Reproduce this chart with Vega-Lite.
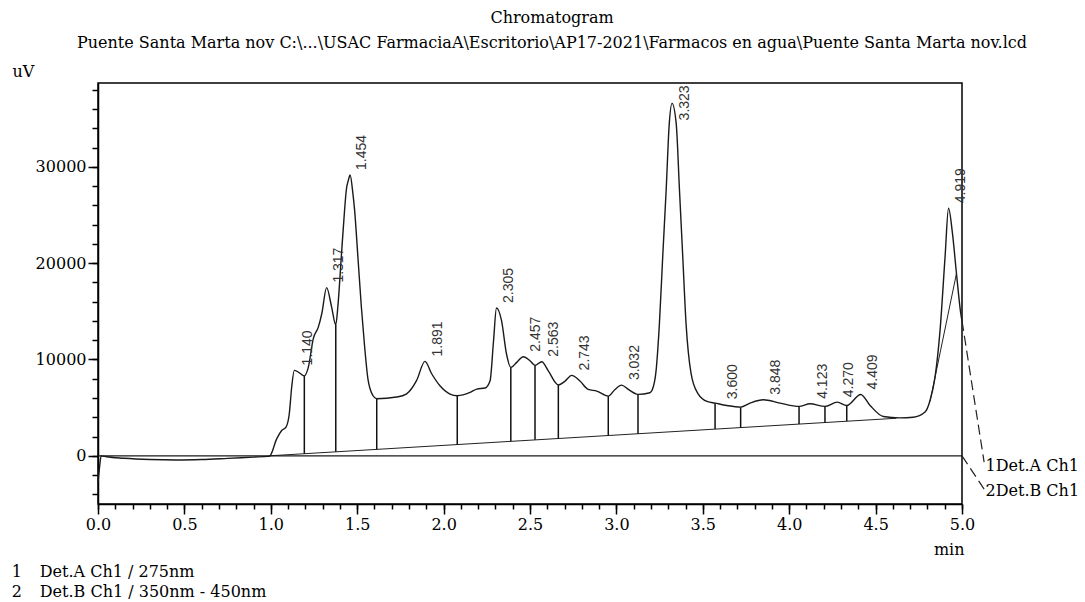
{
  "$schema": "https://vega.github.io/schema/vega-lite/v6.json",
  "width": 864,
  "height": 421,
  "autosize": {"type": "none"},
  "padding": {"left": 98, "top": 83, "right": 123, "bottom": 98},
  "background": "white",
  "title": {
    "text": "Chromatogram",
    "subtitle": "Puente Santa Marta nov C:\\...\\USAC FarmaciaA\\Escritorio\\AP17-2021\\Farmacos en agua\\Puente Santa Marta nov.lcd",
    "anchor": "middle",
    "dx": 22,
    "offset": 12,
    "font": "DejaVu Serif",
    "fontSize": 16,
    "fontWeight": "normal",
    "color": "#000",
    "subtitleFont": "DejaVu Serif",
    "subtitleFontSize": 16,
    "subtitleColor": "#000",
    "subtitlePadding": 9
  },
  "datasets": {
    "curves": [
      {"ch": "Det.B Ch1", "t": 0, "v": 0}, {"ch": "Det.B Ch1", "t": 1, "v": 0}, {"ch": "Det.B Ch1", "t": 2, "v": 0}, {"ch": "Det.B Ch1", "t": 3, "v": 0}, {"ch": "Det.B Ch1", "t": 4, "v": 0}, {"ch": "Det.B Ch1", "t": 5, "v": 0},
      {"ch": "Det.A Ch1", "t": 0.0, "v": -2800}, {"ch": "Det.A Ch1", "t": 0.01, "v": -1000}, {"ch": "Det.A Ch1", "t": 0.018, "v": 0}, {"ch": "Det.A Ch1", "t": 0.05, "v": -100},
      {"ch": "Det.A Ch1", "t": 0.15, "v": -250}, {"ch": "Det.A Ch1", "t": 0.3, "v": -380}, {"ch": "Det.A Ch1", "t": 0.45, "v": -430}, {"ch": "Det.A Ch1", "t": 0.6, "v": -380},
      {"ch": "Det.A Ch1", "t": 0.75, "v": -260}, {"ch": "Det.A Ch1", "t": 0.9, "v": -130}, {"ch": "Det.A Ch1", "t": 0.985, "v": -60}, {"ch": "Det.A Ch1", "t": 0.995, "v": 0},
      {"ch": "Det.A Ch1", "t": 1.034, "v": 1760}, {"ch": "Det.A Ch1", "t": 1.063, "v": 2630}, {"ch": "Det.A Ch1", "t": 1.088, "v": 2980}, {"ch": "Det.A Ch1", "t": 1.107, "v": 4370},
      {"ch": "Det.A Ch1", "t": 1.121, "v": 7140}, {"ch": "Det.A Ch1", "t": 1.136, "v": 8870}, {"ch": "Det.A Ch1", "t": 1.159, "v": 8700}, {"ch": "Det.A Ch1", "t": 1.194, "v": 8300},
      {"ch": "Det.A Ch1", "t": 1.217, "v": 9180}, {"ch": "Det.A Ch1", "t": 1.246, "v": 12170}, {"ch": "Det.A Ch1", "t": 1.275, "v": 13360}, {"ch": "Det.A Ch1", "t": 1.295, "v": 14750},
      {"ch": "Det.A Ch1", "t": 1.323, "v": 17460}, {"ch": "Det.A Ch1", "t": 1.352, "v": 15440}, {"ch": "Det.A Ch1", "t": 1.376, "v": 13600}, {"ch": "Det.A Ch1", "t": 1.388, "v": 15470},
      {"ch": "Det.A Ch1", "t": 1.408, "v": 20660}, {"ch": "Det.A Ch1", "t": 1.427, "v": 25510}, {"ch": "Det.A Ch1", "t": 1.437, "v": 27590}, {"ch": "Det.A Ch1", "t": 1.449, "v": 28620},
      {"ch": "Det.A Ch1", "t": 1.459, "v": 29150}, {"ch": "Det.A Ch1", "t": 1.475, "v": 27250}, {"ch": "Det.A Ch1", "t": 1.485, "v": 25510}, {"ch": "Det.A Ch1", "t": 1.504, "v": 20660},
      {"ch": "Det.A Ch1", "t": 1.524, "v": 15470}, {"ch": "Det.A Ch1", "t": 1.543, "v": 11320}, {"ch": "Det.A Ch1", "t": 1.562, "v": 7990}, {"ch": "Det.A Ch1", "t": 1.591, "v": 6260},
      {"ch": "Det.A Ch1", "t": 1.613, "v": 5920},
      {"ch": "Det.A Ch1", "t": 1.728, "v": 6100}, {"ch": "Det.A Ch1", "t": 1.786, "v": 6440}, {"ch": "Det.A Ch1", "t": 1.844, "v": 7830}, {"ch": "Det.A Ch1", "t": 1.892, "v": 9800},
      {"ch": "Det.A Ch1", "t": 1.931, "v": 8520}, {"ch": "Det.A Ch1", "t": 1.979, "v": 7270}, {"ch": "Det.A Ch1", "t": 2.037, "v": 6410}, {"ch": "Det.A Ch1", "t": 2.079, "v": 6240},
      {"ch": "Det.A Ch1", "t": 2.153, "v": 6580}, {"ch": "Det.A Ch1", "t": 2.192, "v": 6930}, {"ch": "Det.A Ch1", "t": 2.24, "v": 7040}, {"ch": "Det.A Ch1", "t": 2.269, "v": 7800},
      {"ch": "Det.A Ch1", "t": 2.289, "v": 11950}, {"ch": "Det.A Ch1", "t": 2.306, "v": 15340}, {"ch": "Det.A Ch1", "t": 2.335, "v": 14060}, {"ch": "Det.A Ch1", "t": 2.364, "v": 10570},
      {"ch": "Det.A Ch1", "t": 2.389, "v": 9180}, {"ch": "Det.A Ch1", "t": 2.423, "v": 9700}, {"ch": "Det.A Ch1", "t": 2.461, "v": 10290}, {"ch": "Det.A Ch1", "t": 2.5, "v": 9870},
      {"ch": "Det.A Ch1", "t": 2.529, "v": 9390}, {"ch": "Det.A Ch1", "t": 2.568, "v": 9770}, {"ch": "Det.A Ch1", "t": 2.606, "v": 8820}, {"ch": "Det.A Ch1", "t": 2.664, "v": 7370},
      {"ch": "Det.A Ch1", "t": 2.703, "v": 7760}, {"ch": "Det.A Ch1", "t": 2.741, "v": 8350}, {"ch": "Det.A Ch1", "t": 2.789, "v": 7760}, {"ch": "Det.A Ch1", "t": 2.837, "v": 6890},
      {"ch": "Det.A Ch1", "t": 2.886, "v": 6720}, {"ch": "Det.A Ch1", "t": 2.953, "v": 6200}, {"ch": "Det.A Ch1", "t": 2.992, "v": 6890}, {"ch": "Det.A Ch1", "t": 3.03, "v": 7340},
      {"ch": "Det.A Ch1", "t": 3.069, "v": 6890}, {"ch": "Det.A Ch1", "t": 3.125, "v": 6380}, {"ch": "Det.A Ch1", "t": 3.194, "v": 6550}, {"ch": "Det.A Ch1", "t": 3.207, "v": 6830},
      {"ch": "Det.A Ch1", "t": 3.23, "v": 8900}, {"ch": "Det.A Ch1", "t": 3.249, "v": 13750}, {"ch": "Det.A Ch1", "t": 3.268, "v": 20670}, {"ch": "Det.A Ch1", "t": 3.288, "v": 27590},
      {"ch": "Det.A Ch1", "t": 3.306, "v": 34510}, {"ch": "Det.A Ch1", "t": 3.322, "v": 36590}, {"ch": "Det.A Ch1", "t": 3.346, "v": 34510}, {"ch": "Det.A Ch1", "t": 3.365, "v": 27590},
      {"ch": "Det.A Ch1", "t": 3.384, "v": 20670}, {"ch": "Det.A Ch1", "t": 3.403, "v": 13750}, {"ch": "Det.A Ch1", "t": 3.432, "v": 8560}, {"ch": "Det.A Ch1", "t": 3.471, "v": 6490},
      {"ch": "Det.A Ch1", "t": 3.528, "v": 5620}, {"ch": "Det.A Ch1", "t": 3.571, "v": 5470}, {"ch": "Det.A Ch1", "t": 3.638, "v": 5230}, {"ch": "Det.A Ch1", "t": 3.719, "v": 5060},
      {"ch": "Det.A Ch1", "t": 3.773, "v": 5470}, {"ch": "Det.A Ch1", "t": 3.85, "v": 5820}, {"ch": "Det.A Ch1", "t": 3.947, "v": 5470}, {"ch": "Det.A Ch1", "t": 4.057, "v": 5130},
      {"ch": "Det.A Ch1", "t": 4.12, "v": 5400}, {"ch": "Det.A Ch1", "t": 4.207, "v": 5130}, {"ch": "Det.A Ch1", "t": 4.278, "v": 5570}, {"ch": "Det.A Ch1", "t": 4.333, "v": 5230},
      {"ch": "Det.A Ch1", "t": 4.414, "v": 6370}, {"ch": "Det.A Ch1", "t": 4.468, "v": 5230}, {"ch": "Det.A Ch1", "t": 4.545, "v": 4080}, {"ch": "Det.A Ch1", "t": 4.641, "v": 3940},
      {"ch": "Det.A Ch1", "t": 4.718, "v": 4000}, {"ch": "Det.A Ch1", "t": 4.786, "v": 4540}, {"ch": "Det.A Ch1", "t": 4.815, "v": 5750}, {"ch": "Det.A Ch1", "t": 4.844, "v": 8180},
      {"ch": "Det.A Ch1", "t": 4.873, "v": 13020}, {"ch": "Det.A Ch1", "t": 4.902, "v": 20650}, {"ch": "Det.A Ch1", "t": 4.922, "v": 25700}, {"ch": "Det.A Ch1", "t": 4.945, "v": 23070},
      {"ch": "Det.A Ch1", "t": 4.968, "v": 18920}, {"ch": "Det.A Ch1", "t": 4.993, "v": 14760}, {"ch": "Det.A Ch1", "t": 5.0, "v": 14000}
    ],
    "baselines": [
      {"seg": "a", "t": 0.99, "v": 0}, {"seg": "a", "t": 4.62, "v": 3900},
      {"seg": "b", "t": 4.815, "v": 5650}, {"seg": "b", "t": 4.968, "v": 18920}
    ],
    "drops": [
      {"t": 1.194, "top": 8300, "base": 220}, {"t": 1.376, "top": 13600, "base": 416}, {"t": 1.613, "top": 5920, "base": 672},
      {"t": 2.079, "top": 6240, "base": 1174}, {"t": 2.389, "top": 9180, "base": 1508}, {"t": 2.529, "top": 9390, "base": 1659},
      {"t": 2.664, "top": 7370, "base": 1805}, {"t": 2.953, "top": 6200, "base": 2116}, {"t": 3.125, "top": 6380, "base": 2302},
      {"t": 3.571, "top": 5470, "base": 2782}, {"t": 3.719, "top": 5060, "base": 2942}, {"t": 4.057, "top": 5130, "base": 3306},
      {"t": 4.207, "top": 5130, "base": 3468}, {"t": 4.333, "top": 5230, "base": 3604}
    ],
    "peaks": [
      {"rt": 1.14, "h": 8870}, {"rt": 1.317, "h": 17460}, {"rt": 1.454, "h": 29150}, {"rt": 1.891, "h": 9800},
      {"rt": 2.305, "h": 15340}, {"rt": 2.457, "h": 10290}, {"rt": 2.563, "h": 9770}, {"rt": 2.743, "h": 8350},
      {"rt": 3.032, "h": 7340}, {"rt": 3.323, "h": 36590}, {"rt": 3.6, "h": 5350}, {"rt": 3.848, "h": 5820},
      {"rt": 4.123, "h": 5400}, {"rt": 4.27, "h": 5570}, {"rt": 4.409, "h": 6370}, {"rt": 4.919, "h": 25700}
    ],
    "leaders": [
      {"ch": "Det.A Ch1", "t": 5.0, "v": 14000}, {"ch": "Det.A Ch1", "t": 5.128, "v": -650},
      {"ch": "Det.B Ch1", "t": 5.0, "v": 0}, {"ch": "Det.B Ch1", "t": 5.128, "v": -3450}
    ],
    "notes": [
      {"t": 5.136, "v": -1060, "txt": "1Det.A Ch1"},
      {"t": 5.136, "v": -3650, "txt": "2Det.B Ch1"},
      {"t": -0.499, "v": -12060, "txt": "1"},
      {"t": -0.337, "v": -12060, "txt": "Det.A Ch1 / 275nm"},
      {"t": -0.499, "v": -14140, "txt": "2"},
      {"t": -0.337, "v": -14140, "txt": "Det.B Ch1 / 350nm - 450nm"}
    ]
  },
  "layer": [
    {
      "data": {"name": "baselines"},
      "mark": {"type": "line", "color": "#222", "strokeWidth": 1},
      "encoding": {
        "x": {"field": "t", "type": "quantitative", "scale": {"domain": [0, 5], "nice": false, "zero": false},
              "axis": {"orient": "bottom", "values": [0,0.1,0.2,0.3,0.4,0.5,0.6,0.7,0.8,0.9,1,1.1,1.2,1.3,1.4,1.5,1.6,1.7,1.8,1.9,2,2.1,2.2,2.3,2.4,2.5,2.6,2.7,2.8,2.9,3,3.1,3.2,3.3,3.4,3.5,3.6,3.7,3.8,3.9,4,4.1,4.2,4.3,4.4,4.5,4.6,4.7,4.8,4.9,5], "labels": false, "domain": false, "tickSize": 5, "title": null}},
        "y": {"field": "v", "type": "quantitative", "scale": {"domain": [-5000, 38700], "nice": false, "zero": false},
              "axis": {"orient": "left", "values": [-4000,-2000,0,2000,4000,6000,8000,10000,12000,14000,16000,18000,20000,22000,24000,26000,28000,30000,32000,34000,36000,38000], "labels": false, "domain": false, "tickSize": 6, "title": null}},
        "detail": {"field": "seg"}
      }
    },
    {
      "data": {"name": "drops"},
      "mark": {"type": "rule", "color": "#111", "strokeWidth": 1.5},
      "encoding": {
        "x": {"field": "t", "type": "quantitative", "scale": {"domain": [0, 5], "nice": false, "zero": false}, "axis": null},
        "y": {"field": "top", "type": "quantitative", "scale": {"domain": [-5000, 38700], "nice": false, "zero": false}, "axis": null},
        "y2": {"field": "base"}
      }
    },
    {
      "data": {"name": "curves"},
      "mark": {"type": "line", "color": "#1a1a1a", "strokeWidth": 1.4, "interpolate": "monotone"},
      "encoding": {
        "x": {"field": "t", "type": "quantitative", "scale": {"domain": [0, 5], "nice": false, "zero": false},
              "axis": {"orient": "bottom", "values": [0,0.5,1,1.5,2,2.5,3,3.5,4,4.5,5], "format": ".1f", "tickSize": 10, "labelPadding": 2, "labelFlush": false, "labelOverlap": false,
                       "title": "min", "titleX": 866, "titleY": 45, "titleAlign": "right", "titleBaseline": "middle", "titleAngle": 0}},
        "y": {"field": "v", "type": "quantitative", "scale": {"domain": [-5000, 38700], "nice": false, "zero": false},
              "axis": {"orient": "left", "values": [0, 10000, 20000, 30000], "format": "d", "tickSize": 10, "labelPadding": 2, "labelFlush": false, "labelOverlap": false,
                       "title": "uV", "titleAngle": 0, "titleX": -86, "titleY": -12, "titleAlign": "left", "titleBaseline": "middle"}},
        "detail": {"field": "ch"}
      }
    },
    {
      "data": {"name": "leaders"},
      "mark": {"type": "line", "color": "#222", "strokeWidth": 1.2, "strokeDash": [10, 5]},
      "encoding": {
        "x": {"field": "t", "type": "quantitative", "scale": {"domain": [0, 5], "nice": false, "zero": false}, "axis": null},
        "y": {"field": "v", "type": "quantitative", "scale": {"domain": [-5000, 38700], "nice": false, "zero": false}, "axis": null},
        "detail": {"field": "ch"}
      }
    },
    {
      "data": {"name": "peaks"},
      "transform": [{"calculate": "min(datum.h, 34300)", "as": "label_at"}],
      "mark": {"type": "text", "angle": 270, "align": "left", "baseline": "middle", "dx": 5, "dy": 13, "font": "Liberation Sans", "fontSize": 14, "color": "#333"},
      "encoding": {
        "x": {"field": "rt", "type": "quantitative", "scale": {"domain": [0, 5], "nice": false, "zero": false}, "axis": null},
        "y": {"field": "label_at", "type": "quantitative", "scale": {"domain": [-5000, 38700], "nice": false, "zero": false}, "axis": null},
        "text": {"field": "rt", "type": "quantitative", "format": ".3f"}
      }
    },
    {
      "data": {"name": "notes"},
      "mark": {"type": "text", "align": "left", "baseline": "middle", "font": "DejaVu Serif", "fontSize": 16, "color": "#000"},
      "encoding": {
        "x": {"field": "t", "type": "quantitative", "scale": {"domain": [0, 5], "nice": false, "zero": false}, "axis": null},
        "y": {"field": "v", "type": "quantitative", "scale": {"domain": [-5000, 38700], "nice": false, "zero": false}, "axis": null},
        "text": {"field": "txt"}
      }
    }
  ],
  "resolve": {"axis": {"x": "independent", "y": "independent"}},
  "config": {
    "view": {"stroke": "#000", "strokeWidth": 1.5},
    "axis": {"grid": false, "domainColor": "#000", "tickColor": "#000", "labelColor": "#000", "titleColor": "#000",
             "labelFont": "DejaVu Serif", "labelFontSize": 16, "titleFont": "DejaVu Serif", "titleFontSize": 16, "titleFontWeight": "normal",
             "domainWidth": 1.5, "tickWidth": 1.5}
  }
}
